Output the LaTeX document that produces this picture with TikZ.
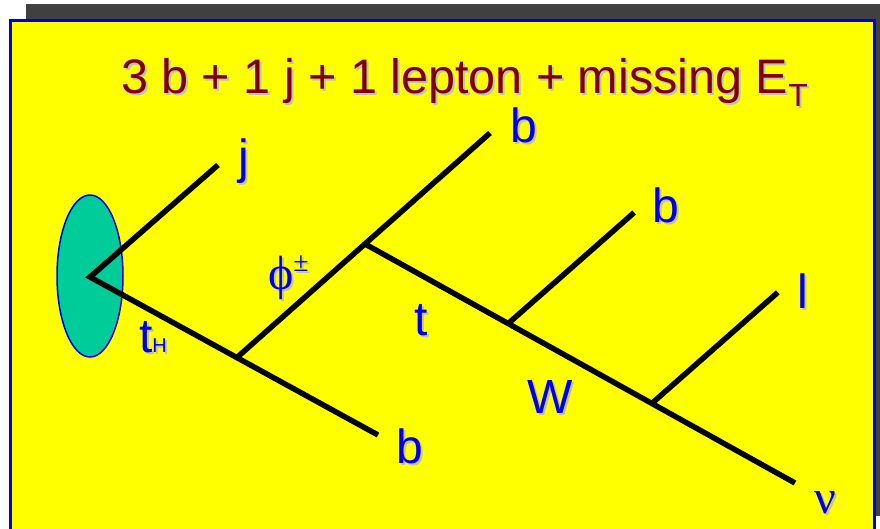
\documentclass[tikz,border=0pt]{standalone}
\usepackage{fontspec}
\setmainfont{Liberation Sans}
\newfontfamily\serifg{Liberation Serif}
\usetikzlibrary{calc}
\definecolor{frameblue}{RGB}{0,0,230}
\definecolor{labelblue}{RGB}{0,0,225}
\definecolor{titlered}{RGB}{128,0,0}
\definecolor{shadowgray}{RGB}{190,190,200}
\definecolor{darkshadow}{RGB}{64,64,64}
\definecolor{blobgreen}{RGB}{0,204,153}
\definecolor{bgyellow}{RGB}{255,255,0}
\tikzset{
  txt/.style={inner sep=0pt, outer sep=0pt, font=\fontsize{48}{50}\selectfont},
  leg/.style={line width=5.5pt, black},
}
\newcommand\shadtxt[2]{%
  \makebox[0pt][l]{\hspace{2pt}\raisebox{-2pt}{\color{shadowgray}#2}}{\color{#1}#2}}
\begin{document}
\begin{tikzpicture}[x=1pt,y=-1pt]
\useasboundingbox (0,0) rectangle (880,528);
% shadow and frame
\fill[darkshadow] (26,4) rectangle (880,516);
\draw[fill=bgyellow, draw=frameblue, line width=3pt] (10.5,20) rectangle (874,545);
% blob
\draw[fill=blobgreen, draw=frameblue, line width=1.5pt] (90,276) ellipse [x radius=33, y radius=81];
% vertices
\coordinate (v0) at (90,277);
\coordinate (jE) at (218,165);
\coordinate (bB) at (378,435);
\coordinate (v1) at ($(v0)!0.51!(bB)$);
\coordinate (bT) at (490,133);
\coordinate (v2) at ($(v1)!0.506!(bT)$);
\coordinate (nuE) at (795,483);
\coordinate (v3) at ($(v2)!0.333!(nuE)$);
\coordinate (v4) at ($(v2)!0.667!(nuE)$);
\coordinate (b2E) at ($(v3)+(126,-111)$);
\coordinate (lE) at ($(v4)+(126,-111)$);
\draw[leg] (jE) -- (v0) -- (bB);
\draw[leg] (v1) -- (bT);
\draw[leg] (v2) -- (nuE);
\draw[leg] (v3) -- (b2E);
\draw[leg] (v4) -- (lE);
% title
\node[txt, anchor=base west, font=\fontsize{48.5}{50}\selectfont] (title) at (121,93)
  {\shadtxt{titlered}{3 b + 1 j + 1 lepton + missing E\raisebox{-13pt}{\fontsize{32}{34}\selectfont T}}};
% labels
\node[txt, anchor=base west] (lj) at (238,173) {\shadtxt{labelblue}{j}};
\node[txt, anchor=base west] (lbT) at (510,142) {\shadtxt{labelblue}{b}};
\node[txt, anchor=base west] (lbB) at (396,463) {\shadtxt{labelblue}{b}};
\node[txt, anchor=base west] (lb2) at (652,222) {\shadtxt{labelblue}{b}};
\node[txt, anchor=base west] (ll) at (797,308) {\shadtxt{labelblue}{l}};
\node[txt, anchor=base west] (lnu) at (814,513) {\shadtxt{labelblue}{\serifg ν}};
\node[txt, anchor=base west] (lphi) at (268,289) {\shadtxt{labelblue}{\serifg ϕ\raisebox{18pt}{\fontsize{28}{30}\selectfont ±}}};
\node[txt, anchor=base west] (lt) at (414,335) {\shadtxt{labelblue}{t}};
\node[txt, anchor=base west] (ltH) at (139,352) {\shadtxt{labelblue}{t\fontsize{20}{22}\selectfont H}};
\node[txt, anchor=base west] (lW) at (527,413) {\shadtxt{labelblue}{W}};
\end{tikzpicture}
\end{document}
